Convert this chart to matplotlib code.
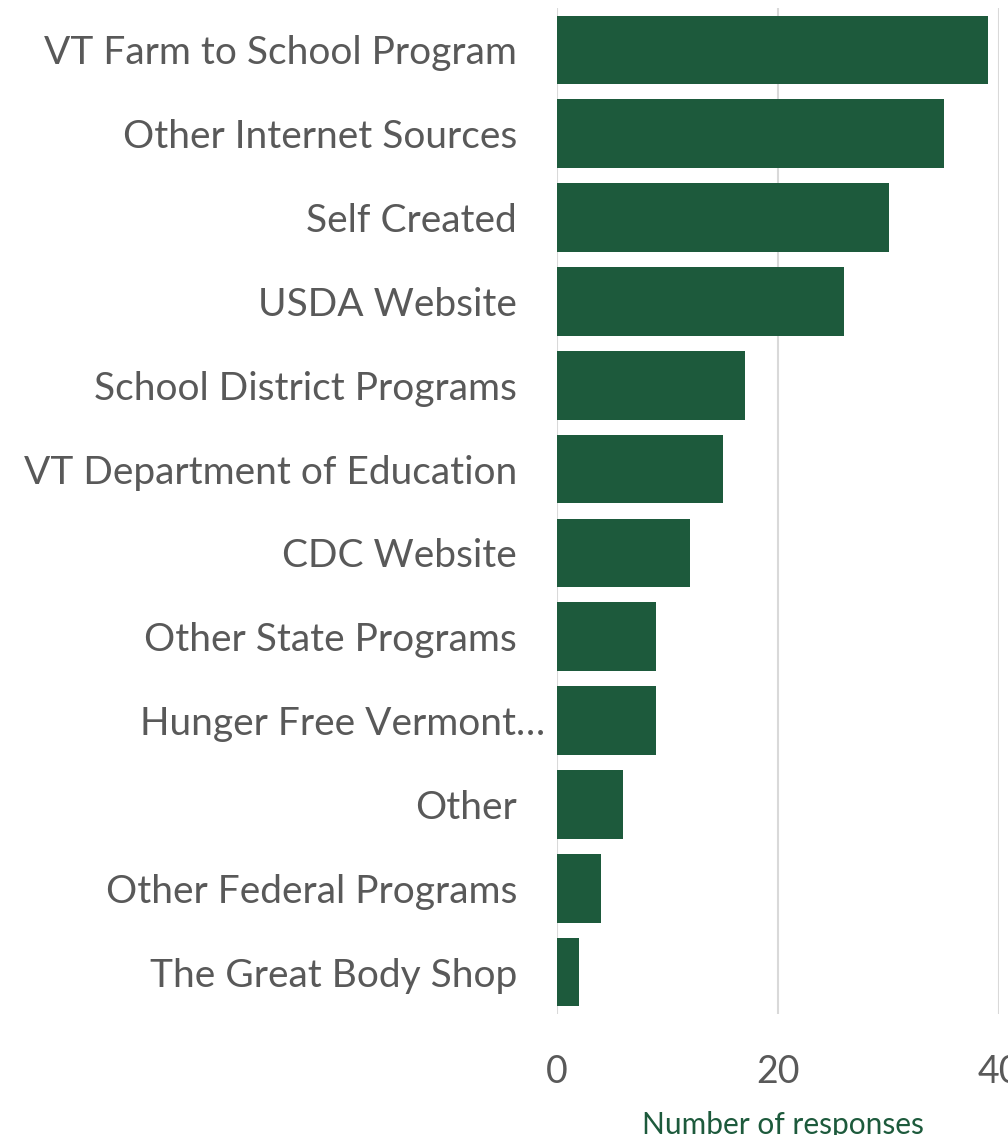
import matplotlib
matplotlib.use("Agg")
import matplotlib.pyplot as plt
from matplotlib.transforms import ScaledTranslation

categories = [
    "VT Farm to School Program",
    "Other Internet Sources",
    "Self Created",
    "USDA Website",
    "School District Programs",
    "VT Department of Education",
    "CDC Website",
    "Other State Programs",
    "Hunger Free Vermont\u2026",
    "Other",
    "Other Federal Programs",
    "The Great Body Shop",
]
values = [39, 35, 30, 26, 17, 15, 12, 9, 9, 6, 4, 2]
xticks = [0, 20, 40]
xlabel = "Number of responses"

BAR = "#1D5A3C"
TXT = "#595959"
GRID = "#D9D9D9"
FONT = ["Lato", "DejaVu Sans"]

fig = plt.figure(figsize=(10.08, 11.35), dpi=100)
ax = fig.add_axes([557 / 1008, 1 - 1014 / 1135, 442 / 1008, 1006 / 1135])

y = list(range(len(categories)))
ax.barh(y, values, height=0.82, color=BAR, zorder=3)
ax.set_ylim(len(categories) - 0.5, -0.5)
ax.set_xlim(0, 40)

for s in ax.spines.values():
    s.set_visible(False)
ax.set_xticks(xticks)
ax.xaxis.grid(True, color=GRID, linewidth=1.5, zorder=0)
ax.set_axisbelow(True)

ax.set_yticks(y)
ax.set_yticklabels(categories, fontsize=28, color=TXT, family=FONT)
ax.set_xticklabels([str(t) for t in xticks], fontsize=27, color=TXT, family=FONT)
ax.tick_params(axis="y", length=0, pad=28.8)
ax.tick_params(axis="x", length=0, pad=29)

# the truncated label sits further right in the original
lbl = ax.get_yticklabels()[8]
lbl.set_transform(lbl.get_transform() + ScaledTranslation(0.28, 0, fig.dpi_scale_trans))

ax.set_xlabel(xlabel, fontsize=21.5, color=BAR, family=FONT, labelpad=15)
xl = ax.xaxis.label
xl.set_transform(xl.get_transform() + ScaledTranslation(0.05, 0, fig.dpi_scale_trans))

fig.savefig("out.png", dpi=100)
